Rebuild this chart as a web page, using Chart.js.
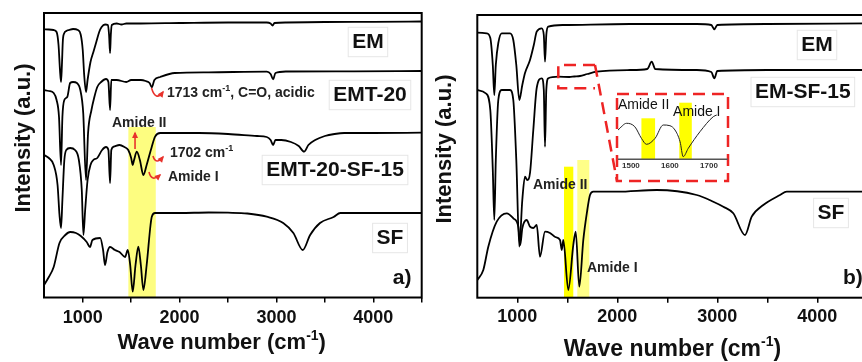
<!DOCTYPE html>
<html><head><meta charset="utf-8">
<script src="https://cdn.jsdelivr.net/npm/chart.js@4.4.1/dist/chart.umd.min.js"></script>
<style>
html,body{margin:0;padding:0;background:#fff;overflow:hidden;width:862px;height:362px;}
#wrap{position:relative;width:862px;height:362px;overflow:hidden;background:#fff;}
canvas{position:absolute;}
</style></head><body>
<div id="wrap">
<canvas id="cA" style="left:0;top:0;width:430px;height:370px" width="430" height="370"></canvas>
<canvas id="cB" style="left:430px;top:0;width:450px;height:370px" width="450" height="370"></canvas>
<canvas id="cI" style="left:610px;top:90px;width:130px;height:90px" width="130" height="90"></canvas>
</div>
<script>
// ---------- Panel a) data (wave number, intensity a.u.) ----------
const wnEM_a = [600,650,700,730,750,765,776,785,795,810,830,860,900,950,980,1000,1015,1034,1050,1080,1110,1140,1170,1195,1230,1260,1272,1282,1290,1300,1350,1400,1450,1600,2000,2500,2900,2940,2960,2980,3100,3500,4000,4500];
const intEM_a = [270.7,270.5,270,268,255,230,218,235,260,267,269,270,271,270,265,250,225,208,220,238,248,258,268,273,275.5,275,265,247,265,275,276.5,275.5,276.5,276.5,277,277.5,277.5,276.5,274.5,277,277.5,278,278.2,278.5];

const wnEMT_a = [600,650,700,730,755,776,790,810,840,870,900,940,975,1005,1034,1055,1090,1120,1150,1190,1240,1265,1282,1295,1350,1450,1500,1600,1650,1690,1713,1740,1800,1950,2300,2900,2940,2966,2990,3100,3800,4500];
const intEMT_a = [210,209,207,200,183,135,183,200,203,217,218,217,210,187,120,167,190,203,213,218,221,218,190,220,220,218,220,220,219,217,212.7,220,223,227,227.7,228.3,226,220.7,227,228.5,228.7,229];

const wnEMTSF_a = [600,650,700,740,760,776,790,810,830,870,920,960,990,1007,1025,1050,1080,1110,1150,1200,1240,1265,1282,1295,1320,1380,1430,1470,1500,1516,1530,1558,1590,1626,1660,1713,1747,1800,2000,2200,2500,2800,2900,2940,2966,2990,3050,3150,3230,3286,3330,3400,3500,3600,3700,4000,4500];
const intEMTSF_a = [145,142,135,115,85,72,100,140,150,152,150,140,110,65,90,120,135,140,142,150,153,150,117,150,153.3,155,153,150,142,135,140,148.3,140,125,135,153.3,163.3,167,167,167,166,164,163,160,155,160,160,158,154,148.3,155,160,164,166,167,167,167.3];

const wnSF_a = [600,650,700,760,820,870,930,980,1041,1075,1100,1180,1210,1230,1255,1282,1333,1380,1437,1465,1490,1516,1545,1574,1600,1626,1660,1700,1713,1747,2000,2300,2500,2700,2900,3070,3175,3272,3348,3450,3590,3660,4000,4500];
const intSF_a = [15,23,33,57,65,68,67,64,58,53,60,62,50,35,48,53,50,48,43,50,35,8.3,35,53.3,35,10,35,75,83.3,87,87,87.5,87.3,86.5,83.3,77,67,50,65,77,83,87,87,87];

// ---------- Panel b) data ----------
const wnEM_b = [600,694,730,755,770,785,810,844,927,960,990,1020,1050,1077,1127,1165,1194,1244,1265,1277,1290,1310,1460,2127,2794,2940,2970,3000,3500,4500];
const intEM_b = [267.3,266.7,262,235,205,235,257,266.7,266.7,260,235,200,215,227,240,255,268.3,271.7,265,238.3,265,273.3,275,276,276,275,270.7,275,276,276.7];

const wnEMSF_b = [600,685,730,755,770,785,810,844,927,960,990,1020,1050,1077,1100,1127,1160,1194,1244,1265,1277,1290,1310,1410,1520,1570,1627,1700,1794,2127,2300,2344,2380,2794,2940,2970,3000,3500,4500];
const intEMSF_b = [210,206.7,190,130,80,140,200,210,210,200,140,53.3,100,123.3,120,127,170,212,221.7,210,153.3,210,221.7,223.3,223,223.5,224,226,228.3,230,231,238.3,231,230,228,221.7,229,230,230];

const wnSF_b = [600,660,710,794,894,960,1010,1030,1050,1094,1127,1160,1194,1227,1277,1327,1380,1427,1445,1460,1510,1560,1584,1620,1660,1700,1727,1760,2000,2394,2794,2960,3060,3160,3277,3344,3460,3627,3694,4500];
const intSF_b = [20,30,53.3,78.3,86.7,81.7,73.3,55,71.7,80,73.3,72,75,43.3,68.3,67,63,60,50,60,10,55,68.3,13.3,60,90,105,108.3,108.3,110,105,98.3,93.3,86.7,65,83.3,95,105,108.3,108.3];

// ---------- Inset (EM-SF-15, 1465-1750 cm-1) ----------
const wnInset = [1467,1489,1510,1527,1540,1562,1583,1600,1613,1626,1634,1647,1677,1711,1720];
const intInset = [30,36.7,33.3,21.7,15.7,21.7,35,34.3,30,18.3,3.3,11.7,28.3,43.3,45];

// x-axis ticks and tick labels
const tickValuesMain = [1000,1500,2000,2500,3000,3500,4000,4500];
const tickLabelsMain = [1000, 2000, 3000, 4000];
const tickLabelsInset = [1500, 1600, 1700];

// ---------- helpers ----------
const FAM = "'Liberation Sans', Arial, sans-serif";
function pts(wn, v) { return wn.map((x, i) => ({ x: x, y: v[i] })); }

function rich(ctx, parts, x, y, size, weight, align, color) {
  const fN = weight + ' ' + size + 'px ' + FAM;
  const fS = weight + ' ' + Math.round(size * 0.62) + 'px ' + FAM;
  let w = 0;
  parts.forEach(p => { ctx.font = p.sup ? fS : fN; w += ctx.measureText(p.t).width; });
  let cx = align === 'center' ? x - w / 2 : (align === 'right' ? x - w : x);
  ctx.textBaseline = 'middle'; ctx.textAlign = 'left'; ctx.fillStyle = color;
  parts.forEach(p => {
    ctx.font = p.sup ? fS : fN;
    ctx.fillText(p.t, cx, p.sup ? y - size * 0.33 : y);
    cx += ctx.measureText(p.t).width;
  });
  return w;
}

function arrowPath(ctx, P, color) {
  ctx.save();
  ctx.strokeStyle = color; ctx.fillStyle = color; ctx.lineWidth = 1.6;
  ctx.beginPath();
  let ex, ey, tx, ty;
  if (P.length === 2) {
    ctx.moveTo(P[0][0], P[0][1]); ctx.lineTo(P[1][0], P[1][1]);
    ex = P[1][0]; ey = P[1][1]; tx = P[1][0] - P[0][0]; ty = P[1][1] - P[0][1];
  } else {
    const cx = 2 * P[1][0] - (P[0][0] + P[2][0]) / 2, cy = 2 * P[1][1] - (P[0][1] + P[2][1]) / 2;
    ctx.moveTo(P[0][0], P[0][1]); ctx.quadraticCurveTo(cx, cy, P[2][0], P[2][1]);
    ex = P[2][0]; ey = P[2][1]; tx = P[2][0] - cx; ty = P[2][1] - cy;
  }
  ctx.stroke();
  const L = Math.hypot(tx, ty) || 1; tx /= L; ty /= L;
  const h = 5, s = 3;
  ctx.beginPath();
  ctx.moveTo(ex + tx * 1.5, ey + ty * 1.5);
  ctx.lineTo(ex - tx * h + ty * s, ey - ty * h - tx * s);
  ctx.lineTo(ex - tx * h - ty * s, ey - ty * h + tx * s);
  ctx.closePath(); ctx.fill();
  ctx.restore();
}

function deco(d) {
  return {
    id: 'deco',
    beforeDatasetsDraw(chart) {
      const { ctx, chartArea: a, scales: { x, y } } = chart;
      ctx.save();
      (d.bands || []).forEach(b => {
        const x0 = x.getPixelForValue(b.from), x1 = x.getPixelForValue(b.to), yt = y.getPixelForValue(b.top);
        ctx.fillStyle = b.color;
        ctx.fillRect(x0, yt, x1 - x0, a.bottom - yt);
      });
      ctx.restore();
    },
    afterDatasetsDraw(chart) {
      const { ctx, chartArea: a, scales: { x, y } } = chart;
      ctx.save();
      if (d.box) {
        ctx.strokeStyle = '#000'; ctx.lineWidth = 2;
        ctx.strokeRect(a.left, a.top, a.right - a.left, a.bottom - a.top);
      }
      if (d.baseLine) {
        ctx.strokeStyle = '#555'; ctx.lineWidth = 1.5;
        ctx.beginPath(); ctx.moveTo(a.left, a.bottom); ctx.lineTo(a.right, a.bottom); ctx.stroke();
      }
      if (d.dashed) {
        ctx.strokeStyle = '#ee2424'; ctx.lineWidth = 2.5; ctx.setLineDash([12, 7]);
        d.dashed.forEach(seg => {
          ctx.beginPath();
          seg.forEach((p, i) => {
            const px = x.getPixelForValue(p[0]), py = y.getPixelForValue(p[1]);
            if (i === 0) ctx.moveTo(px, py); else ctx.lineTo(px, py);
          });
          ctx.stroke();
        });
        ctx.setLineDash([]);
      }
      (d.arrows || []).forEach(ar => {
        arrowPath(ctx, ar.map(p => [x.getPixelForValue(p[0]), y.getPixelForValue(p[1])]), '#e8322c');
      });
      (d.labels || []).forEach(l => {
        const px = x.getPixelForValue(l.wn), py = y.getPixelForValue(l.v);
        if (l.bg) {
          ctx.font = l.weight + ' ' + l.size + 'px ' + FAM;
          let w = 0; l.parts.forEach(p => { w += ctx.measureText(p.t).width; });
          const lx = l.align === 'center' ? px - w / 2 : px;
          ctx.fillStyle = '#fff'; ctx.strokeStyle = '#e6e6e6'; ctx.lineWidth = 1;
          ctx.fillRect(lx - 4, py - l.size * 0.7, w + 8, l.size * 1.4);
          ctx.strokeRect(lx - 4, py - l.size * 0.7, w + 8, l.size * 1.4);
        }
        rich(ctx, l.parts, px, py, l.size, l.weight, l.align, l.color || '#111');
      });
      (d.titles || []).forEach(t => {
        ctx.save();
        ctx.translate(t.x, t.y);
        if (t.rot) ctx.rotate(-Math.PI / 2);
        rich(ctx, t.parts, 0, 0, t.size, 'bold', 'center', '#111');
        ctx.restore();
      });
      ctx.restore();
    }
  };
}

const T = s => [{ t: s }];
const waveTitle = [{ t: 'Wave number (cm' }, { t: '-1', sup: true }, { t: ')' }];
const intTitle = T('Intensity (a.u.)');

function mainChart(id, series, o) {
  return new Chart(document.getElementById(id), {
    type: 'line',
    data: {
      datasets: series.map(s => ({
        data: pts(s[0], s[1]), borderColor: '#000', borderWidth: 1.8, pointRadius: 0,
        cubicInterpolationMode: 'monotone', fill: false
      }))
    },
    options: {
      responsive: false, animation: false, devicePixelRatio: 1,
      layout: { padding: o.pad },
      plugins: { legend: { display: false }, tooltip: { enabled: false } },
      scales: {
        x: {
          type: 'linear', min: 600, max: 4500,
          afterBuildTicks: s => { s.ticks = tickValuesMain.map(v => ({ value: v })); },
          afterFit: s => { s.height = o.xh; },
          border: { display: false },
          grid: { display: true, drawOnChartArea: false, drawTicks: true, tickLength: 5, color: '#000', lineWidth: 1.5 },
          ticks: {
            autoSkip: false, maxRotation: 0, padding: o.tickPad,
            color: '#111', font: { family: FAM, size: 18, weight: 'bold' },
            callback: v => tickLabelsMain.includes(Math.round(v)) ? String(Math.round(v)) : ''
          }
        },
        y: { display: false, min: o.ymin, max: o.ymax }
      }
    },
    plugins: [deco(o.deco)]
  });
}

// Panel a)
mainChart('cA', [[wnEM_a, intEM_a], [wnEMT_a, intEMT_a], [wnEMTSF_a, intEMTSF_a], [wnSF_a, intSF_a]], {
  pad: { left: 44, top: 13, right: 8.3, bottom: 0 }, xh: 72.5, tickPad: 4.4, ymin: 2.5, ymax: 287,
  deco: {
    box: true,
    bands: [{ from: 1471, to: 1754, top: 173, color: '#fdfd80' }],
    arrows: [
      [[1710, 212], [1762, 204], [1829, 208]],
      [[1540, 151], [1540, 167]],
      [[1725, 144], [1766, 139], [1829, 143]],
      [[1684, 128], [1726, 122], [1798, 125]]
    ],
    labels: [
      { parts: T('EM'), wn: 3945, v: 258, size: 21, weight: 'bold', align: 'center', bg: true },
      { parts: T('EMT-20'), wn: 3966, v: 205, size: 21, weight: 'bold', align: 'center', bg: true },
      { parts: T('EMT-20-SF-15'), wn: 3605, v: 130, size: 21, weight: 'bold', align: 'center', bg: true },
      { parts: T('SF'), wn: 4173, v: 62, size: 21, weight: 'bold', align: 'center', bg: true },
      { parts: T('a)'), wn: 4297, v: 22, size: 21, weight: 'bold', align: 'center' },
      { parts: [{ t: '1713 cm' }, { t: '-1', sup: true }, { t: ', C=O, acidic' }], wn: 1870, v: 207, size: 14, weight: 'bold', align: 'left', color: '#222' },
      { parts: T('Amide II'), wn: 1302, v: 177, size: 14, weight: 'bold', align: 'left', color: '#222' },
      { parts: [{ t: '1702 cm' }, { t: '-1', sup: true }], wn: 1901, v: 147, size: 14, weight: 'bold', align: 'left', color: '#222' },
      { parts: T('Amide I'), wn: 1880, v: 123, size: 14, weight: 'bold', align: 'left', color: '#222' }
    ],
    titles: [
      { parts: waveTitle, x: 221.7, y: 343, size: 22 },
      { parts: intTitle, x: 24, y: 138, size: 22, rot: true }
    ]
  }
});

// Panel b)
mainChart('cB', [[wnEM_b, intEM_b], [wnEMSF_b, intEMSF_b], [wnSF_b, intSF_b]], {
  pad: { left: 47.3, top: 15, right: 12.7, bottom: 0 }, xh: 72.3, tickPad: 3.5, ymin: 2.3, ymax: 285,
  deco: {
    box: true,
    bands: [
      { from: 1467, to: 1560, top: 133.3, color: '#ffff00' },
      { from: 1600, to: 1720, top: 140, color: '#ffff88' }
    ],
    dashed: [
      [[1777, 235], [1410, 235], [1410, 211.7], [1777, 211.7]],
      [[1777, 235], [1997, 119]],
      [[1997, 206], [3107, 206], [3107, 119], [1997, 119], [1997, 206]]
    ],
    labels: [
      { parts: T('EM'), wn: 3997, v: 255, size: 21, weight: 'bold', align: 'center', bg: true },
      { parts: T('EM-SF-15'), wn: 3377, v: 208, size: 21, weight: 'bold', align: 'left', bg: true },
      { parts: T('SF'), wn: 4137, v: 87, size: 21, weight: 'bold', align: 'center', bg: true },
      { parts: T('b)'), wn: 4257, v: 22, size: 21, weight: 'bold', align: 'left' },
      { parts: T('Amide II'), wn: 1157, v: 115, size: 14, weight: 'bold', align: 'left', color: '#222' },
      { parts: T('Amide I'), wn: 1697, v: 32, size: 14, weight: 'bold', align: 'left', color: '#222' }
    ],
    titles: [
      { parts: waveTitle, x: 242.5, y: 350, size: 23 },
      { parts: intTitle, x: 15, y: 149, size: 22, rot: true }
    ]
  }
});

// Inset
new Chart(document.getElementById('cI'), {
  type: 'line',
  data: { datasets: [{ data: pts(wnInset, intInset), borderColor: '#222', borderWidth: 1, pointRadius: 0, cubicInterpolationMode: 'monotone', fill: false }] },
  options: {
    responsive: false, animation: false, devicePixelRatio: 1,
    layout: { padding: { left: 8, top: 5, right: 12.3, bottom: 0 } },
    plugins: { legend: { display: false }, tooltip: { enabled: false } },
    scales: {
      x: {
        type: 'linear', min: 1467, max: 1748,
        afterBuildTicks: s => { s.ticks = tickLabelsInset.map(v => ({ value: v })); },
        afterFit: s => { s.height = 20.7; },
        border: { display: false },
        grid: { display: false, drawTicks: false },
        ticks: {
          autoSkip: false, maxRotation: 0, padding: 1.4,
          color: '#333', font: { family: FAM, size: 8, weight: 'bold' },
          callback: v => String(Math.round(v))
        }
      },
      y: { display: false, min: 0.7, max: 65 }
    }
  },
  plugins: [deco({
    baseLine: true,
    bands: [
      { from: 1527, to: 1562, top: 41.7, color: '#ffff00' },
      { from: 1624, to: 1656, top: 57.3, color: '#ffff00' }
    ],
    labels: [
      { parts: T('Amide II'), wn: 1467, v: 55, size: 14, weight: 'normal', align: 'left', color: '#111' },
      { parts: T('Amide I'), wn: 1608, v: 48, size: 14, weight: 'normal', align: 'left', color: '#111' }
    ]
  })]
});
</script>
</body></html>
